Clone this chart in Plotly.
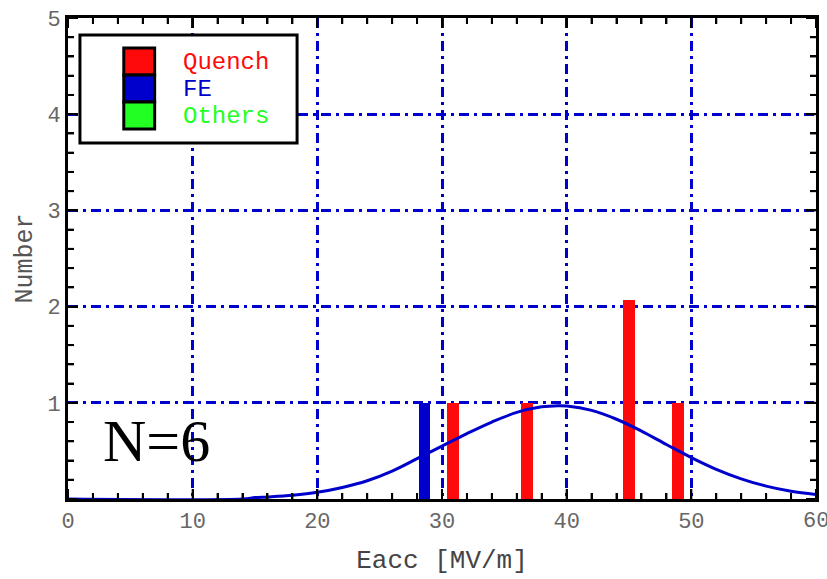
import numpy as np
import plotly.graph_objects as go

# ---- data ----
quench_x = [30.9, 36.8, 45.0, 48.9]
quench_n = [1, 1, 2.07, 1]
fe_x = [28.6]
fe_n = [1]

curve_x = [0, 14, 15, 16, 18, 20, 22, 24, 26, 28, 30, 32, 34, 36, 38, 39.3, 40, 42, 44, 46, 48, 50, 52, 54, 56, 58, 60]
curve_y = [0.0, 0.0, 0.015, 0.022, 0.04, 0.07, 0.12, 0.19, 0.29, 0.42, 0.55, 0.68, 0.80, 0.90, 0.958, 0.97, 0.967, 0.921, 0.829, 0.706, 0.567, 0.431, 0.309, 0.21, 0.134, 0.081, 0.047]

x_max = 60
y_max = 5
x_major, x_minor = 10, 2
y_major, y_minor = 1, 0.2
y_tickvals = [0, 1, 2, 3, 4, 5]
y_ticktext = ["", "1", "2", "3", "4", "5"]
legend_labels = ["Quench", "FE", "Others"]
legend_colors = ["#ff0a0a", "#0000cc", "#22ff22"]

RED = "#ff0a0a"
BLUE = "#0000cc"
GRID_DASH = "10px,5px,3px,5px"

fig = go.Figure()
fig.add_trace(go.Scatter(x=curve_x, y=curve_y, mode="lines",
                         line=dict(color=BLUE, width=3, shape="spline"),
                         showlegend=False, hoverinfo="skip"))
fig.add_trace(go.Bar(x=fe_x, y=fe_n, width=0.95, marker=dict(color=BLUE, line=dict(width=0)),
                     showlegend=False))
fig.add_trace(go.Bar(x=quench_x, y=quench_n, width=0.95, marker=dict(color=RED, line=dict(width=0)),
                     showlegend=False))

tickfont = dict(family="Liberation Mono", size=22, color="#666666")
fig.update_xaxes(range=[0, x_max], tickmode="linear", tick0=0, dtick=x_major,
                 showline=True, linecolor="black", linewidth=3, mirror="ticks",
                 ticks="inside", ticklen=10, tickwidth=2, tickcolor="black",
                 minor=dict(tickmode="linear", tick0=0, dtick=x_minor, ticks="inside", ticklen=6,
                            tickwidth=2, tickcolor="black", showgrid=False),
                 showgrid=True, gridcolor=BLUE, gridwidth=3, griddash=GRID_DASH,
                 zeroline=False, tickfont=tickfont,
                 title=dict(text="Eacc [MV/m]", font=dict(family="Liberation Mono", size=26, color="#444444"), standoff=16))
fig.update_yaxes(range=[0, y_max], tickmode="array", tickvals=y_tickvals, ticktext=y_ticktext,
                 showline=True, linecolor="black", linewidth=3, mirror="ticks",
                 ticks="inside", ticklen=10, tickwidth=2, tickcolor="black",
                 minor=dict(tickmode="linear", tick0=0, dtick=y_minor, ticks="inside", ticklen=6,
                            tickwidth=2, tickcolor="black", showgrid=False),
                 showgrid=True, gridcolor=BLUE, gridwidth=3, griddash=GRID_DASH,
                 zeroline=False, tickfont=tickfont,
                 title=dict(text="Number", font=dict(family="Liberation Mono", size=25, color="#555555"), standoff=8))

# tick marks on all four sides (pixel-sized decorations)
tick_style = dict(color="black", width=2)
for xv in np.arange(0, x_max + 1e-9, x_minor):
    ln = 10 if abs(xv / x_major - round(xv / x_major)) < 1e-6 else 6
    fig.add_shape(type="line", xref="x", yref="paper", ysizemode="pixel", yanchor=0,
                  x0=float(xv), x1=float(xv), y0=0, y1=ln, line=tick_style, layer="above")
    fig.add_shape(type="line", xref="x", yref="paper", ysizemode="pixel", yanchor=1,
                  x0=float(xv), x1=float(xv), y0=-ln, y1=0, line=tick_style, layer="above")
for yv in np.arange(0, y_max + 1e-9, y_minor):
    ln = 10 if abs(yv / y_major - round(yv / y_major)) < 1e-6 else 6
    fig.add_shape(type="line", xref="paper", yref="y", xsizemode="pixel", xanchor=0,
                  x0=0, x1=ln, y0=float(yv), y1=float(yv), line=tick_style, layer="above")
    fig.add_shape(type="line", xref="paper", yref="y", xsizemode="pixel", xanchor=1,
                  x0=-ln, x1=0, y0=float(yv), y1=float(yv), line=tick_style, layer="above")

# last x tick label (partly cut at the right edge like the reference)
fig.add_annotation(x=x_max, y=0, xref="x", yref="y", text=str(x_max), showarrow=False,
                   yanchor="top", yshift=-8, font=tickfont)

# N=6 label
fig.add_annotation(x=7.1, y=0.6, xref="x", yref="y", text="N=6", showarrow=False,
                   font=dict(family="Liberation Serif", size=60, color="black"))

# legend box (paper coordinates)
W, H = 827, 579
L, R, T, B = 68, 8, 18, 80
pw, ph = W - L - R, H - T - B
def px(x):
    return (x - L) / pw
def py(y):
    return 1 - (y - T) / ph

fig.add_shape(type="rect", xref="paper", yref="paper", x0=px(80), x1=px(298), y0=py(143), y1=py(35),
              line=dict(color="black", width=3), fillcolor="white", layer="above")
sw_top = [48, 75, 102]
for i, (lab, col) in enumerate(zip(legend_labels, legend_colors)):
    y0 = sw_top[i]
    fig.add_shape(type="rect", xref="paper", yref="paper", x0=px(124), x1=px(155),
                  y0=py(y0 + 27), y1=py(y0), line=dict(color="black", width=3), fillcolor=col, layer="above")
    fig.add_annotation(x=px(181), y=py(y0 + 14), xref="paper", yref="paper", text=lab, showarrow=False,
                       xanchor="left", yanchor="middle",
                       font=dict(family="Liberation Mono", size=24, color=col))

fig.update_layout(width=W, height=H, margin=dict(l=L, r=R, t=T, b=B),
                  plot_bgcolor="white", paper_bgcolor="white", barmode="overlay", bargap=0)
fig.write_html("out.html")
